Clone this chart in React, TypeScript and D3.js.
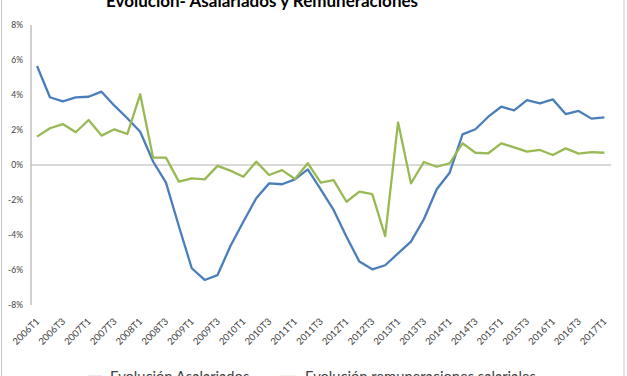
import React from "react";
import * as d3 from "d3";

const years = d3.range(2006, 2018);
const categories: string[] = [];
years.forEach((y) => ["T1", "T2", "T3", "T4"].forEach((q) => categories.push(`${y}${q}`)));
const quarters = categories.slice(0, 45);

const asalariados = [
  5.66, 3.87, 3.64, 3.86, 3.9, 4.19, 3.39, 2.67, 1.9, 0.2,
  -1.01, -3.5, -5.9, -6.57, -6.29, -4.63, -3.24, -1.9, -1.05, -1.1,
  -0.82, -0.25, -1.39, -2.57, -4.1, -5.52, -5.96, -5.73, -5.05, -4.38,
  -3.1, -1.39, -0.44, 1.75, 2.04, 2.76, 3.33, 3.12, 3.71, 3.52,
  3.75, 2.91, 3.09, 2.65, 2.72,
];
const remuneraciones = [
  1.62, 2.1, 2.34, 1.87, 2.57, 1.68, 2.04, 1.77, 4.04, 0.42,
  0.42, -0.95, -0.76, -0.82, -0.05, -0.32, -0.67, 0.19, -0.57, -0.29,
  -0.8, 0.1, -1.01, -0.86, -2.1, -1.52, -1.66, -4.06, 2.44, -1.05,
  0.17, -0.1, 0.1, 1.24, 0.7, 0.67, 1.24, 1.01, 0.76, 0.86,
  0.57, 0.95, 0.65, 0.74, 0.7,
];
const yTicks = [-8, -6, -4, -2, 0, 2, 4, 6, 8];
const title = "Evolución- Asalariados y Remuneraciones";
const seriesNames = ["Evolución Asalariados", "Evolución remuneraciones salariales"];

const W = 627;
const H = 376;
const BLUE = "#4A7EBB";
const GREEN = "#98B954";

export default function App() {
  const x = d3.scaleBand<string>().domain(quarters).range([30.6, 610.8]);
  const y = d3.scaleLinear().domain([-8, 8]).range([305, 25]);
  const cx = (d: string) => (x(d) as number) + x.bandwidth() / 2;
  const line = d3
    .line<number>()
    .x((_, i) => cx(quarters[i]))
    .y((v) => y(v));
  const labelQuarters = quarters.filter((_, i) => i % 2 === 0);
  const font = "Lato, 'Open Sans', sans-serif";
  return (
    <svg
      width={W}
      height={H}
      style={{ position: "absolute", left: 0, top: 0, background: "#fff" }}
      fontFamily={font}
    >
      <rect x={1.5} y={-5} width={622.5} height={H + 10} fill="#fff" stroke="#C8C8C8" />
      <text x={262} y={7} textAnchor="middle" fontWeight="bold" fontSize={17} fill="#000">
        {title}
      </text>
      {yTicks.map((t) => (
        <text key={t} x={23} y={y(t) + 3} textAnchor="end" fontSize={8.5} fill="#404040">
          {`${t}%`}
        </text>
      ))}
      <line x1={31} x2={31} y1={y(8)} y2={y(-8)} stroke="#A0A0A0" strokeWidth={1} />
      <line x1={31} x2={611} y1={y(0)} y2={y(0)} stroke="#B4B4B4" strokeWidth={1.2} />
      <path d={line(asalariados) || ""} fill="none" stroke={BLUE} strokeWidth={2.3} strokeLinejoin="round" />
      <path d={line(remuneraciones) || ""} fill="none" stroke={GREEN} strokeWidth={2.3} strokeLinejoin="round" />
      {labelQuarters.map((q) => (
        <text
          key={q}
          transform={`translate(${cx(q) + 3},${322}) rotate(-45)`}
          textAnchor="end"
          fontSize={9.5}
          fill="#404040"
        >
          {q}
        </text>
      ))}
      <line x1={88} x2={102} y1={377} y2={377} stroke={BLUE} strokeWidth={2.3} />
      <text x={110} y={381.5} fontSize={14.7} fill="#404040">
        {seriesNames[0]}
      </text>
      <line x1={280} x2={296} y1={377} y2={377} stroke={GREEN} strokeWidth={2.3} />
      <text x={305} y={381.5} fontSize={14.7} fill="#404040">
        {seriesNames[1]}
      </text>
    </svg>
  );
}
